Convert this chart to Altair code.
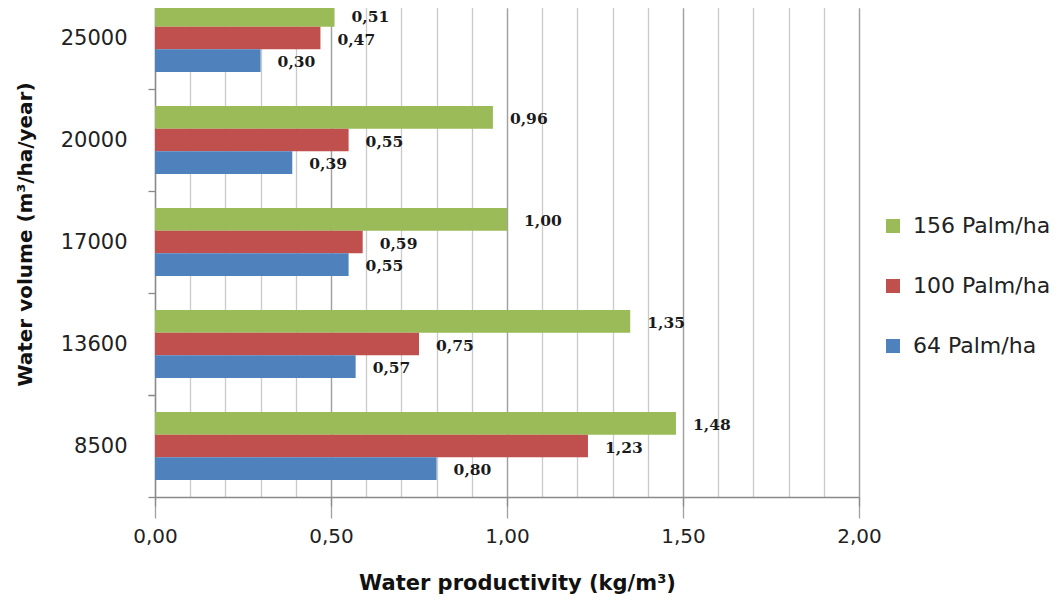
import altair as alt
import pandas as pd

categories = ["8500", "13600", "17000", "20000", "25000"]
series = ["156 Palm/ha", "100 Palm/ha", "64 Palm/ha"]
p156 = [1.48, 1.35, 1.00, 0.96, 0.51]
p100 = [1.23, 0.75, 0.59, 0.55, 0.47]
p64 = [0.80, 0.57, 0.55, 0.39, 0.30]
colors = ["#9BBB59", "#C0504D", "#4F81BD"]
x_minor = [0.0, 0.1, 0.2, 0.3, 0.4, 0.5, 0.6, 0.7, 0.8, 0.9, 1.0,
           1.1, 1.2, 1.3, 1.4, 1.5, 1.6, 1.7, 1.8, 1.9, 2.0]
x_major = [0.0, 0.5, 1.0, 1.5, 2.0]

rows = []
for s, vals in zip(series, [p156, p100, p64]):
    for c, v in zip(categories, vals):
        rows.append({"volume": c, "density": s, "wp": v,
                     "label": f"{v:.2f}".replace(".", ",")})
df = pd.DataFrame(rows)

W, H = 704, 489
xscale = alt.Scale(domain=[0, 2], nice=False, zero=True)

# minor grid axis (drawn on top side, only its grid is visible)
x_grid = alt.X(
    "wp:Q",
    scale=xscale,
    axis=alt.Axis(
        orient="top",
        values=x_minor,
        title=None,
        labels=False,
        ticks=False,
        domain=False,
        grid=True,
        gridColor="#cacaca",
        gridWidth=1.3,
    ),
)

# main axis with labels, major ticks and darker major grid
x_main = alt.X(
    "wp:Q",
    scale=xscale,
    axis=alt.Axis(
        orient="bottom",
        values=x_major,
        title="Water productivity (kg/m³)",
        labelExpr="replace(format(datum.value, '.2f'), '.', ',')",
        labelOverlap=False,
        labelFlush=False,
        grid=True,
        gridColor="#a0a0a0",
        gridWidth=1.3,
        tickSize=9,
        tickColor="#8a8a8a",
        tickWidth=1.3,
        domainColor="#8a8a8a",
        domainWidth=1.3,
        labelFont="DejaVu Sans",
        labelFontSize=20,
        labelColor="#222222",
        labelPadding=20,
        titleFont="DejaVu Sans",
        titleFontSize=21,
        titleFontWeight="bold",
        titleColor="#111111",
        titleX=362,
        titleY=86,
        titleBaseline="middle",
    ),
)

y = alt.Y(
    "volume:N",
    sort=None,
    scale=alt.Scale(domain=categories, range=[H, -21],
                    paddingInner=0, paddingOuter=0),
    axis=alt.Axis(
        title="Water volume (m³/ha/year)",
        tickBand="extent",
        tickSize=7,
        tickColor="#8a8a8a",
        tickWidth=1.3,
        domainColor="#8a8a8a",
        domainWidth=1.3,
        grid=False,
        labelFont="DejaVu Sans",
        labelFontSize=21,
        labelColor="#222222",
        labelPadding=21,
        titleFont="DejaVu Sans",
        titleFontSize=20,
        titleFontWeight="bold",
        titleColor="#111111",
        titleX=-130,
        titleY=226,
        titleAngle=-90,
        titleBaseline="middle",
    ),
)

yoff = alt.YOffset("density:N", sort=series,
                   scale=alt.Scale(domain=series, paddingInner=0, paddingOuter=0.75))

color = alt.Color(
    "density:N",
    scale=alt.Scale(domain=series, range=colors),
    legend=alt.Legend(
        title=None,
        orient="none",
        legendX=727,
        legendY=207,
        symbolType="square",
        symbolSize=196,
        symbolStrokeWidth=0,
        labelFont="DejaVu Sans",
        labelFontSize=22,
        labelColor="#222222",
        labelOffset=9,
        rowPadding=38,
        padding=0,
    ),
)

bars = alt.Chart(df).mark_bar(opacity=1).encode(x=x_grid, y=y, yOffset=yoff, color=color)

labels = alt.Chart(df).mark_text(
    align="left", baseline="middle", dx=17, dy=1.5,
    font="DejaVu Serif", fontSize=15.5, fontWeight="bold", color="#1a1a1a"
).encode(x=x_main, y=alt.Y("volume:N", sort=None), yOffset=yoff, text="label:N")

chart = (
    alt.layer(bars, labels)
    .resolve_axis(x="independent")
    .properties(
        width=W,
        height=H,
        autosize=alt.AutoSizeParams(type="none"),
        padding={"left": 147, "top": 0, "right": 196, "bottom": 100},
        background="white",
    )
    .configure_view(stroke=None)
)

chart.save("out.html", embed_options={"renderer": "svg", "actions": False})
